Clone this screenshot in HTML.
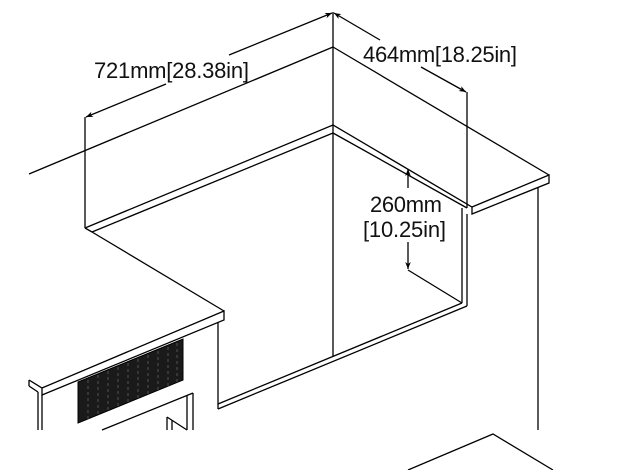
<!DOCTYPE html>
<html><head><meta charset="utf-8"><style>
html,body{margin:0;padding:0;background:#fff;}
svg{display:block}
text{font-family:"Liberation Sans",sans-serif;font-size:22px;fill:#111;}
</style></head><body>
<svg width="621" height="470" viewBox="0 0 621 470" xmlns="http://www.w3.org/2000/svg">
<defs>
<marker id="ar" viewBox="0 0 10 10" refX="10" refY="5" markerWidth="9" markerHeight="7" orient="auto-start-reverse" markerUnits="userSpaceOnUse">
<path d="M0,1 L10,5 L0,9 L3,5 Z" fill="#000"/></marker>
</defs>
<g stroke="#000" stroke-width="1.3" fill="none" stroke-linejoin="miter">
<line x1="29" y1="174" x2="333" y2="47"/>
<line x1="333" y1="47" x2="549" y2="175"/>
<line x1="333" y1="12" x2="333" y2="125"/>
<line x1="166" y1="84" x2="86" y2="117" marker-end="url(#ar)"/>
<line x1="229" y1="55" x2="332" y2="13" marker-end="url(#ar)"/>
<line x1="85" y1="117" x2="85" y2="228"/>
<line x1="380" y1="40" x2="334" y2="13" marker-end="url(#ar)"/>
<line x1="421" y1="67" x2="466" y2="92" marker-end="url(#ar)"/>
<line x1="467" y1="92" x2="467" y2="208"/>
<polyline points="85,228 333,125 472,207 549,175 549,183 472,214 472,207"/>
<line x1="92" y1="232" x2="333" y2="133"/>
<line x1="333" y1="133" x2="467" y2="208"/>
<line x1="85" y1="228" x2="92" y2="232"/>
<line x1="333" y1="125" x2="333" y2="357"/>
<line x1="462" y1="208" x2="462" y2="303"/>
<line x1="467" y1="214" x2="467" y2="306"/>
<line x1="408" y1="270" x2="462" y2="303"/>
<line x1="408" y1="188" x2="408" y2="169" marker-end="url(#ar)"/>
<line x1="408" y1="242" x2="408" y2="269" marker-end="url(#ar)"/>
<line x1="462" y1="303" x2="218" y2="404"/>
<line x1="467" y1="306" x2="218" y2="409"/>
<line x1="218" y1="322" x2="218" y2="409"/>
<line x1="538" y1="188" x2="538" y2="430"/>
<polyline points="408,470 493,434 553,470"/>
<line x1="92" y1="232" x2="224" y2="311"/>
<polyline points="29,380 42,388 224,311 224,320 42,395 42,388"/>
<line x1="42" y1="395" x2="42" y2="430"/>
<line x1="38" y1="392" x2="38" y2="430"/>
<line x1="29" y1="380" x2="29" y2="386"/>
<line x1="29" y1="386" x2="38" y2="392"/>
<line x1="102" y1="430" x2="193" y2="393"/>
<line x1="193" y1="393" x2="193" y2="430"/>
<line x1="187" y1="396" x2="187" y2="430"/>
<line x1="167" y1="417" x2="167" y2="430"/>
<line x1="172" y1="420" x2="172" y2="430"/>
<line x1="167" y1="417" x2="187" y2="430"/>
</g>
<polygon points="78,382 183,339 183,380 78,423" fill="#1a1a1a" stroke="#000"/>
<g stroke="#777" stroke-width="0.6" stroke-dasharray="3,3">
<line x1="88" y1="380" x2="88" y2="419"/><line x1="98" y1="375" x2="98" y2="415"/>
<line x1="108" y1="371" x2="108" y2="411"/><line x1="118" y1="367" x2="118" y2="407"/>
<line x1="128" y1="363" x2="128" y2="403"/><line x1="138" y1="359" x2="138" y2="399"/>
<line x1="148" y1="355" x2="148" y2="394"/><line x1="158" y1="351" x2="158" y2="390"/>
<line x1="168" y1="347" x2="168" y2="386"/><line x1="177" y1="343" x2="177" y2="382"/>
</g>
<text x="94" y="78" textLength="155">721mm[28.38in]</text>
<text x="363" y="62" textLength="154">464mm[18.25in]</text>
<text x="370" y="212" textLength="72">260mm</text>
<text x="363" y="237" textLength="83">[10.25in]</text>
</svg>
</body></html>
